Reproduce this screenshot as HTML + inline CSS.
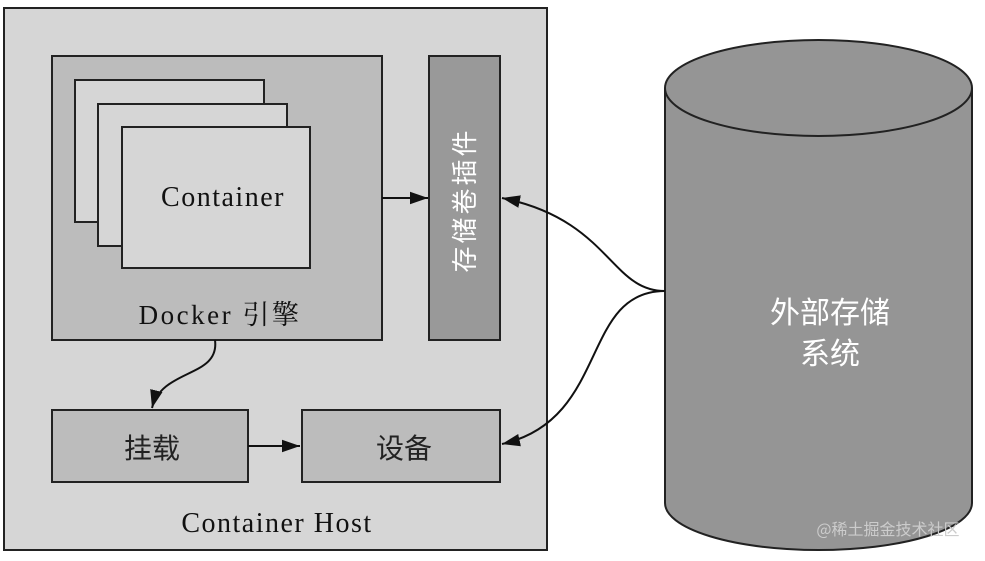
<!DOCTYPE html>
<html><head><meta charset="utf-8"><style>
body{margin:0;background:#fff;}
</style></head><body>
<svg width="985" height="556" viewBox="0 0 985 556" xmlns="http://www.w3.org/2000/svg">
<defs>
<marker id="b" viewBox="0 0 10 10" refX="10" refY="5" markerWidth="18" markerHeight="18" markerUnits="userSpaceOnUse" orient="auto"><path d="M0,1.5 L10,5 L0,8.5 z" fill="#111"/></marker></defs>
<rect x="4" y="8" width="543" height="542" fill="#d6d6d6" stroke="#222" stroke-width="2"/>
<rect x="52" y="56" width="330" height="284" fill="#bcbcbc" stroke="#222" stroke-width="2"/>
<rect x="75" y="80" width="189" height="142" fill="#d6d6d6" stroke="#222" stroke-width="2"/>
<rect x="98" y="104" width="189" height="142" fill="#d6d6d6" stroke="#222" stroke-width="2"/>
<rect x="122" y="127" width="188" height="141" fill="#d6d6d6" stroke="#222" stroke-width="2"/>
<text x="223" y="206" font-family="Liberation Serif, serif" font-size="28" text-anchor="middle" fill="#111" letter-spacing="1.5">Container</text>
<text x="220" y="324" font-family="Liberation Serif, 'Noto Serif CJK SC', serif" font-size="27" text-anchor="middle" fill="#111" letter-spacing="2.5">Docker 引擎</text>
<rect x="429" y="56" width="71" height="284" fill="#999" stroke="#222" stroke-width="2"/>
<text transform="translate(474,200) rotate(-90)" font-family="'Noto Sans CJK SC', sans-serif" font-size="26" text-anchor="middle" fill="#fff" letter-spacing="3">存储卷插件</text>
<line x1="382" y1="198" x2="428" y2="198" stroke="#111" stroke-width="2" marker-end="url(#b)"/>
<rect x="52" y="410" width="196" height="72" fill="#bcbcbc" stroke="#222" stroke-width="2"/>
<rect x="302" y="410" width="198" height="72" fill="#bcbcbc" stroke="#222" stroke-width="2"/>
<text x="152" y="458" font-family="'Noto Sans CJK SC', sans-serif" font-size="28" text-anchor="middle" fill="#222">挂载</text>
<text x="404" y="458" font-family="'Noto Sans CJK SC', sans-serif" font-size="28" text-anchor="middle" fill="#222">设备</text>
<line x1="248" y1="446" x2="300" y2="446" stroke="#111" stroke-width="2" marker-end="url(#b)"/>
<path d="M215,340 C220,378 162,368 152,408" fill="none" stroke="#111" stroke-width="2" marker-end="url(#b)"/>
<text x="277" y="532" font-family="Liberation Serif, serif" font-size="28" text-anchor="middle" fill="#111" letter-spacing="1.5">Container Host</text>
<path d="M665,88 L665,503 A153.5,47 0 0 0 972,503 L972,88" fill="#959595" stroke="#222" stroke-width="2"/>
<ellipse cx="818.5" cy="88" rx="153.5" ry="48" fill="#959595" stroke="#222" stroke-width="2"/>
<text x="830" y="323" font-family="'Noto Sans CJK SC', sans-serif" font-size="30" text-anchor="middle" fill="#fff">外部存储</text>
<text x="830" y="364" font-family="'Noto Sans CJK SC', sans-serif" font-size="30" text-anchor="middle" fill="#fff">系统</text>
<text x="888" y="535" font-family="'Noto Sans CJK SC', sans-serif" font-size="16" text-anchor="middle" fill="#ccc">@稀土掘金技术社区</text>
<path d="M665,291 C610,291 610,220 502,198" fill="none" stroke="#111" stroke-width="2" marker-end="url(#b)"/>
<path d="M665,291 C580,291 610,420 502,444" fill="none" stroke="#111" stroke-width="2" marker-end="url(#b)"/>
</svg>
</body></html>
